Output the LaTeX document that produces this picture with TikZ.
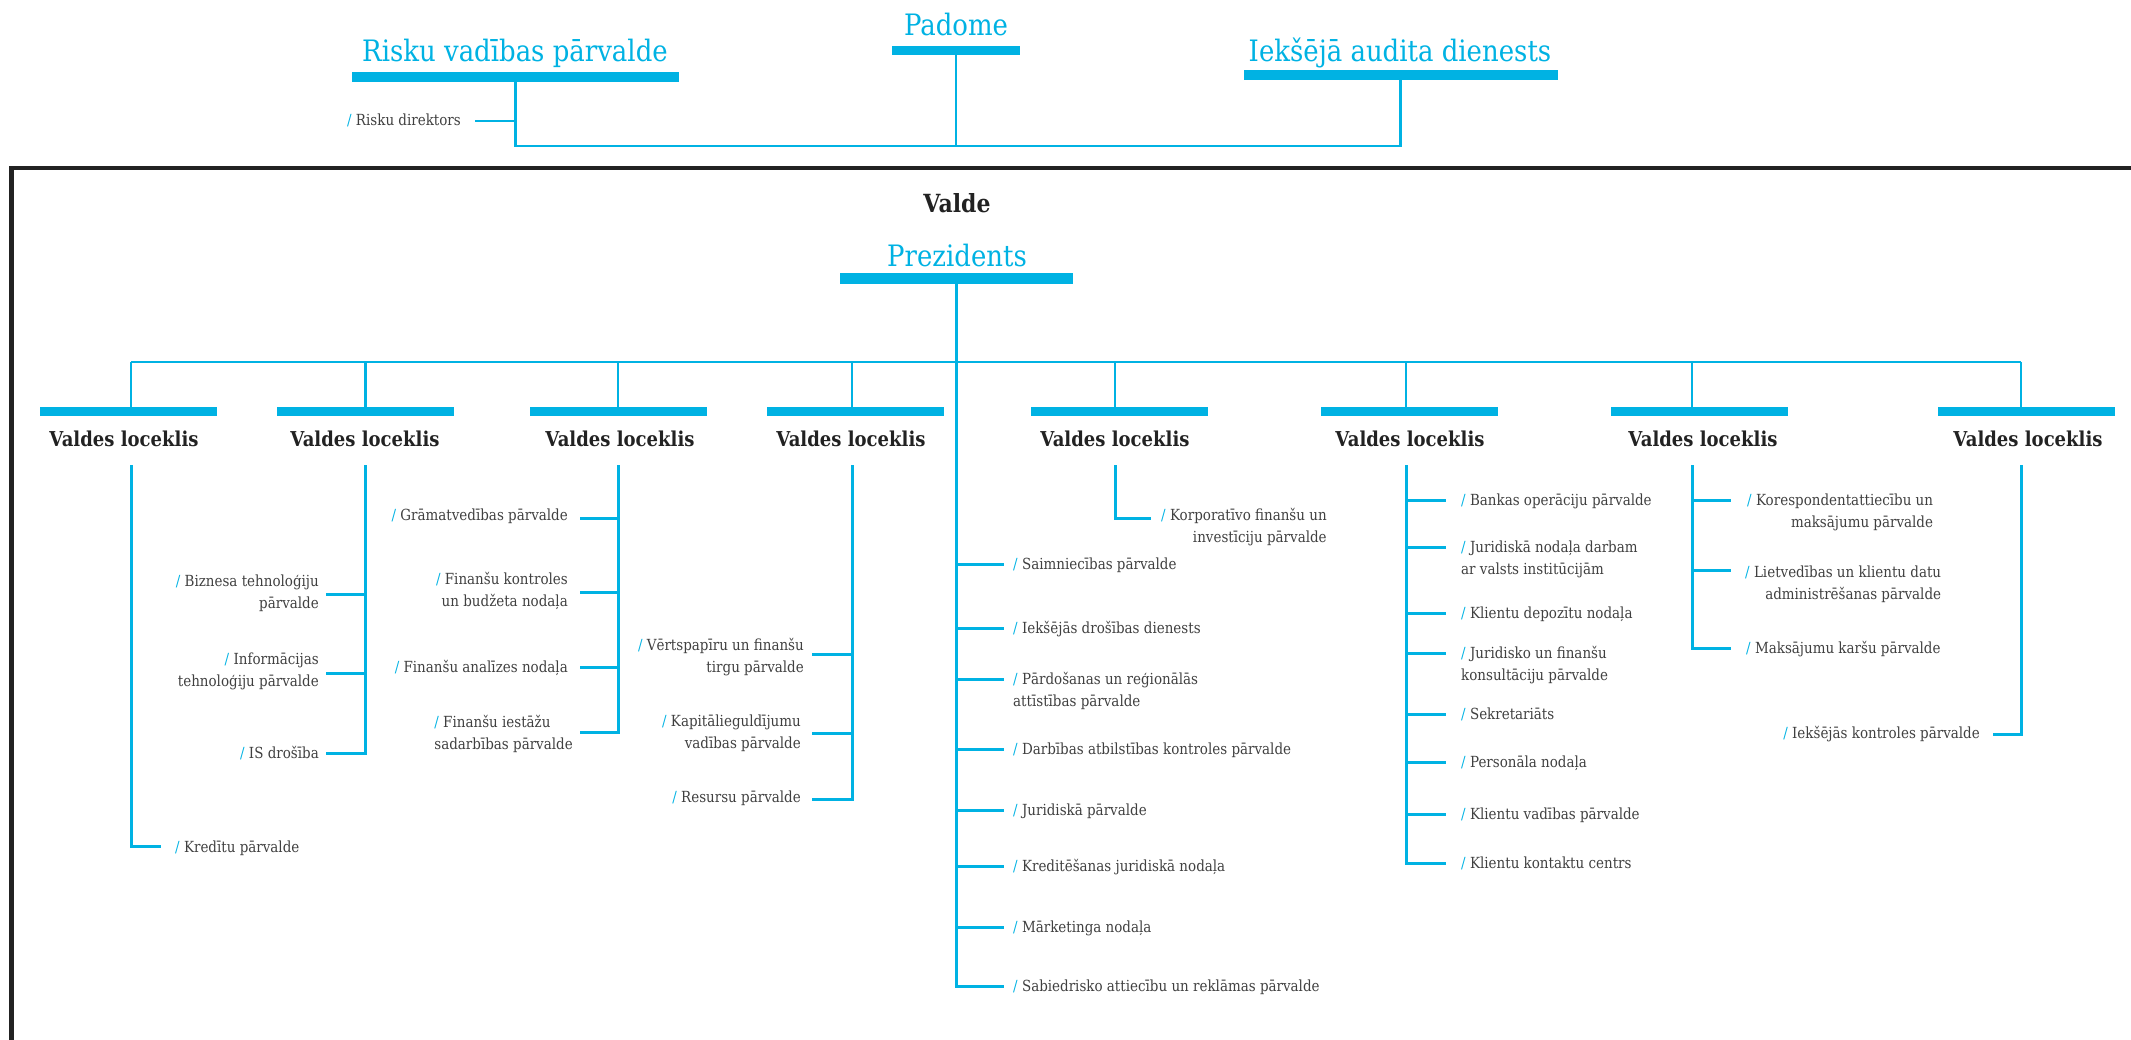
\documentclass[tikz,border=0pt]{standalone}
\usepackage{fontspec}
\setmainfont[FakeStretch=0.88]{DejaVu Serif}
\usetikzlibrary{calc}
\definecolor{cy}{RGB}{0,178,227}
\definecolor{tx}{RGB}{64,64,64}
\definecolor{fr}{RGB}{34,34,34}
\newcommand{\slh}{\textcolor{cy}{/}\ }
\newcommand{\blockr}[1]{\begin{tabular}[t]{@{}r@{}}#1\end{tabular}}
\newcommand{\blockl}[1]{\begin{tabular}[t]{@{}l@{}}#1\end{tabular}}
\tikzset{
  bar/.style={fill=cy, draw=none, inner sep=0pt, minimum height=9pt},
  head/.style={text=cy, font=\fontsize{29.5}{33}\selectfont, inner sep=0pt, anchor=base},
  member/.style={text=fr, font=\bfseries\fontsize{20.5}{24}\selectfont, inner sep=0pt, anchor=base},
  item/.style={text=tx, font=\fontsize{15.3}{22}\selectfont, inner sep=0pt},
  conn/.style={draw=cy, line width=2.2pt},
  tree/.style={draw=cy, line width=3pt},
}
\begin{document}
\begin{tikzpicture}[x=1pt,y=-1pt]
\useasboundingbox (0,0) rectangle (2131,1039);
% frame
\draw[fr, line width=4.3pt] (11.5,1050) -- (11.5,168) -- (2145,168);

% top level
\node[head] (padome) at (956,35) {Padome};
\node[bar, minimum width=128pt] (padbar) at (956,50.5) {};
\node[head] (risk) at (515,61) {Risku vadības pārvalde};
\node[bar, minimum width=327pt, minimum height=10pt] (riskbar) at (515.5,77) {};
\node[head] (audit) at (1400,61) {Iekšējā audita dienests};
\node[bar, minimum width=314pt, minimum height=10pt] (auditbar) at (1400.5,74.5) {};
\coordinate (topj) at (956,146);
\draw[conn] (riskbar.south) |- (topj) -| (auditbar.south);
\draw[conn] (padbar.south) -- (topj);
\node[item, anchor=base east] (rdir) at (461,125) {\slh Risku direktors};
\draw[conn] (riskbar.south) |- ($(rdir.base east)+(14,-4)$);

% Valde / Prezidents
\node[member, font=\bfseries\fontsize{25}{28}\selectfont] (valde) at (957,212) {Valde};
\node[head] (prez) at (957,266) {Prezidents};
\node[bar, minimum width=233pt, minimum height=11pt] (prezbar) at (956.5,278.5) {};
\coordinate (cp) at (956.5,362);
\draw[conn] (prezbar.south) -- (cp);

% members
\foreach \i/\vx/\bx/\tx in {1/131/128/124, 2/365.5/365/365, 3/618/618.5/620, 4/852/855.5/851,
  5/1115/1119.5/1115, 6/1406/1409.5/1410, 7/1692/1699.5/1703, 8/2021/2026.5/2028} {
  \node[bar, minimum width=177pt] (b\i) at (\bx,411.5) {};
  \node[member] (m\i) at (\tx,446) {Valdes loceklis};
  \coordinate (c\i) at (\vx,465);
  \draw[conn] (c\i |- b\i.north) -- (c\i |- cp);
}
\draw[conn] (c1 |- cp) -- (c8 |- cp);

% column 1
\node[item, anchor=base west] (i1a) at (175,852) {\slh Kredītu pārvalde};
\draw[tree] (c1) |- ($(i1a.base west)+(-14,-6)$);

% column 2
\node[item, anchor=base east] (i2a) at (319,586) {\blockr{\slh Biznesa tehnoloģiju\\pārvalde}};
\node[item, anchor=base east] (i2b) at (319,664) {\blockr{\slh Informācijas\\tehnoloģiju pārvalde}};
\node[item, anchor=base east] (i2c) at (319,758) {\slh IS drošība};
\draw[tree] (c2) |- ($(i2a.base east)+(7,8)$);
\draw[tree] (c2) |- ($(i2b.base east)+(7,9)$);
\draw[tree] (c2) |- ($(i2c.base east)+(7,-5)$);

% column 3
\node[item, anchor=base east] (i3a) at (568,520) {\slh Grāmatvedības pārvalde};
\node[item, anchor=base east] (i3b) at (568,584) {\blockr{\slh Finanšu kontroles\\un budžeta nodaļa}};
\node[item, anchor=base east] (i3c) at (568,672) {\slh Finanšu analīzes nodaļa};
\node[item, anchor=base east] (i3d) at (573,727) {\blockl{\slh Finanšu iestāžu\\sadarbības pārvalde}};
\draw[tree] (c3) |- ($(i3a.base east)+(12,-2)$);
\draw[tree] (c3) |- ($(i3b.base east)+(12,8)$);
\draw[tree] (c3) |- ($(i3c.base east)+(12,-5)$);
\draw[tree] (c3) |- ($(i3d.base east)+(7,5)$);

% column 4
\node[item, anchor=base east] (i4a) at (804,650) {\blockr{\slh Vērtspapīru un finanšu\\tirgu pārvalde}};
\node[item, anchor=base east] (i4b) at (801,726) {\blockr{\slh Kapitālieguldījumu\\vadības pārvalde}};
\node[item, anchor=base east] (i4c) at (801,802) {\slh Resursu pārvalde};
\draw[tree] (c4) |- ($(i4a.base east)+(8,4)$);
\draw[tree] (c4) |- ($(i4b.base east)+(11,7)$);
\draw[tree] (c4) |- ($(i4c.base east)+(11,-3)$);

% column 5
\node[item, anchor=base west] (i5a) at (1161,520) {\blockr{\slh Korporatīvo finanšu un\\investīciju pārvalde}};
\draw[tree] (c5) |- ($(i5a.base west)+(-10,-2)$);

% president column
\foreach \n/\y/\t in {
  p1/569/{\slh Saimniecības pārvalde},
  p2/633/{\slh Iekšējās drošības dienests},
  p3/684/{\blockl{\slh Pārdošanas un reģionālās\\attīstības pārvalde}},
  p4/754/{\slh Darbības atbilstības kontroles pārvalde},
  p5/815/{\slh Juridiskā pārvalde},
  p6/871/{\slh Kreditēšanas juridiskā nodaļa},
  p7/932/{\slh Mārketinga nodaļa},
  p8/991/{\slh Sabiedrisko attiecību un reklāmas pārvalde}} {
  \node[item, anchor=base west] (\n) at (1013,\y) {\t};
  \draw[tree] (cp) |- ($(\n.base west)+(-9,-5)$);
}

% column 6
\foreach \n/\y/\t in {
  q1/505/{\slh Bankas operāciju pārvalde},
  q2/552/{\blockl{\slh Juridiskā nodaļa darbam\\ar valsts institūcijām}},
  q3/618/{\slh Klientu depozītu nodaļa},
  q4/658/{\blockl{\slh Juridisko un finanšu\\konsultāciju pārvalde}},
  q5/719/{\slh Sekretariāts},
  q6/767/{\slh Personāla nodaļa},
  q7/819/{\slh Klientu vadības pārvalde},
  q8/868/{\slh Klientu kontaktu centrs}} {
  \node[item, anchor=base west] (\n) at (1461,\y) {\t};
  \draw[tree] (c6) |- ($(\n.base west)+(-15,-5)$);
}

% column 7
\node[item, anchor=base west] (i7a) at (1747,505) {\blockr{\slh Korespondentattiecību un\\maksājumu pārvalde}};
\node[item, anchor=base west] (i7b) at (1745,577) {\blockr{\slh Lietvedības un klientu datu\\administrēšanas pārvalde}};
\node[item, anchor=base west] (i7c) at (1746,653) {\slh Maksājumu karšu pārvalde};
\draw[tree] (c7) |- ($(i7a.base west)+(-16,-5)$);
\draw[tree] (c7) |- ($(i7b.base west)+(-14,-7)$);
\draw[tree] (c7) |- ($(i7c.base west)+(-15,-5)$);

% column 8
\node[item, anchor=base east] (i8a) at (1980,738) {\slh Iekšējās kontroles pārvalde};
\draw[tree] (c8) |- ($(i8a.base east)+(13,-4)$);
\end{tikzpicture}
\end{document}
